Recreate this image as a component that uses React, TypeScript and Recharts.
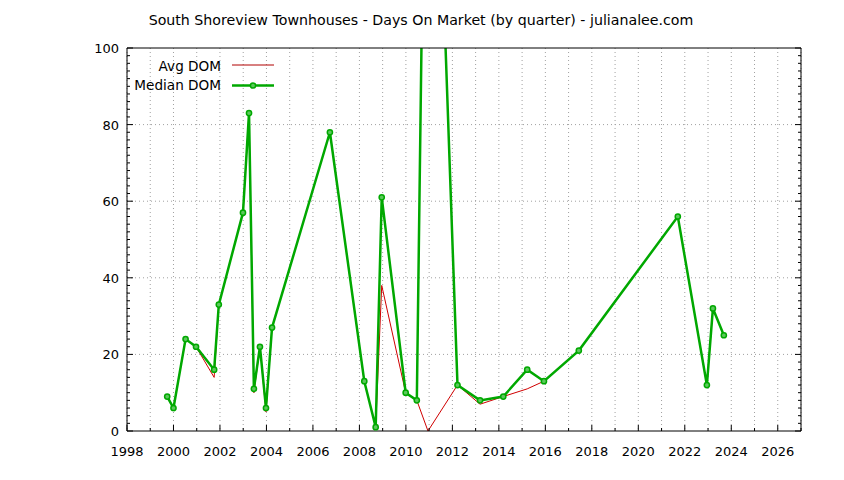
import { LineChart, Line, XAxis, YAxis, CartesianGrid, ReferenceLine } from "recharts";

// quarter positions (decimal years)
const quarters = [
  1999.73, 2000.0, 2000.52, 2000.97, 2001.75, 2001.95, 2002.99, 2003.25, 2003.46, 2003.72,
  2003.98, 2004.24, 2006.73, 2008.21, 2008.7, 2008.96, 2009.99, 2010.47, 2010.95, 2012.22,
  2013.19, 2014.19, 2015.22, 2015.94, 2017.44, 2021.7, 2022.95, 2023.21, 2023.68,
];
const avgDom = [
  9, 6, 24, 22, 14, 33, 57, 83, 10, 22,
  5, 27, 78, 13, 1, 38, 10, 8, 0, 12,
  7, 9, 11, 13, 21, 56, 12, 32, 25,
];
const medianDom = [
  9, 6, 24, 22, 16, 33, 57, 83, 11, 22,
  6, 27, 78, 13, 1, 61, 10, 8, 230, 12,
  8, 9, 16, 13, 21, 56, 12, 32, 25,
];

const yearTicks = Array.from({ length: 30 }, (_, i) => 1998 + i);
const domTicks = Array.from({ length: 51 }, (_, i) => i * 2);
const gridLevels = [20, 40, 60, 80];

const data = quarters.map((t, i) => ({ t, avg: avgDom[i], median: medianDom[i] }));

const FONT = "'DejaVu Sans', sans-serif";
const GREEN = "#00a800";
const RED = "#d00000";

const BottomTick = ({ x, y, payload }: any) => {
  const v = payload.value;
  const major = v % 2 === 0;
  return (
    <g>
      <line x1={x} x2={x} y1={y} y2={y - (major ? 6 : 3)} stroke="#000" />
      {major && v <= 2026 && (
        <text x={x} y={y + 25} textAnchor="middle" fontSize={13} fontFamily={FONT} fill="#000">
          {v}
        </text>
      )}
    </g>
  );
};

const TopTick = ({ x, y, payload }: any) => {
  const major = payload.value % 2 === 0;
  return <line x1={x} x2={x} y1={y} y2={y + (major ? 6 : 3)} stroke="#000" />;
};

const LeftTick = ({ x, y, payload }: any) => {
  const v = payload.value;
  const major = v % 20 === 0;
  return (
    <g>
      <line x1={x} x2={x + (major ? 6 : 3)} y1={y} y2={y} stroke="#000" />
      {major && (
        <text x={x - 8} y={y + 5} textAnchor="end" fontSize={13} fontFamily={FONT} fill="#000">
          {v}
        </text>
      )}
    </g>
  );
};

const RightTick = ({ x, y, payload }: any) => {
  const major = payload.value % 20 === 0;
  return <line x1={x} x2={x - (major ? 6 : 3)} y1={y} y2={y} stroke="#000" />;
};

const MedianDot = (props: any) => {
  const { cx, cy, index } = props;
  if (cy == null || cy < 40) return <g key={index} />;
  return <circle key={index} cx={cx} cy={cy} r={2.6} fill="#5cc85c" stroke={GREEN} strokeWidth={1.5} />;
};

export default function App() {
  return (
    <div style={{ position: "absolute", left: 0, top: 0, width: 844, height: 480, background: "#fff" }}>
      <LineChart width={844} height={480} data={data} margin={{ top: 47, right: 42, bottom: 24, left: 0 }}>
        <CartesianGrid vertical horizontal={false} stroke="#a0a0a0" strokeDasharray="1 3" />
        {gridLevels.map((g) => (
          <ReferenceLine key={g} y={g} stroke="#a0a0a0" strokeDasharray="1 3" />
        ))}
        <XAxis
          dataKey="t"
          type="number"
          domain={[1998, 2027]}
          ticks={yearTicks}
          interval={0}
          height={25}
          tickSize={0}
          tickMargin={0}
          tickLine={false}
          axisLine={{ stroke: "#000" }}
          tick={<BottomTick />}
          allowDataOverflow
        />
        <XAxis
          xAxisId="top"
          orientation="top"
          type="number"
          domain={[1998, 2027]}
          ticks={yearTicks}
          interval={0}
          height={1}
          tickSize={0}
          tickMargin={0}
          tickLine={false}
          axisLine={{ stroke: "#000" }}
          tick={<TopTick />}
          allowDataOverflow
        />
        <YAxis
          type="number"
          domain={[0, 100]}
          ticks={domTicks}
          interval={0}
          width={127}
          tickSize={0}
          tickMargin={0}
          tickLine={false}
          axisLine={{ stroke: "#000" }}
          tick={<LeftTick />}
          allowDataOverflow
        />
        <YAxis
          yAxisId="right"
          orientation="right"
          type="number"
          domain={[0, 100]}
          ticks={domTicks}
          interval={0}
          width={1}
          tickSize={0}
          tickMargin={0}
          tickLine={false}
          axisLine={{ stroke: "#000" }}
          tick={<RightTick />}
          allowDataOverflow
        />
        <Line
          dataKey="avg"
          type="linear"
          stroke={RED}
          strokeWidth={1}
          dot={false}
          isAnimationActive={false}
        />
        <Line
          dataKey="median"
          type="linear"
          stroke={GREEN}
          strokeWidth={2.5}
          dot={<MedianDot />}
          isAnimationActive={false}
        />
      </LineChart>
      <svg width={844} height={480} style={{ position: "absolute", left: 0, top: 0, pointerEvents: "none" }}>
        <text x={421} y={25} textAnchor="middle" fontSize={14.2} fontFamily={FONT} fill="#000">
          South Shoreview Townhouses - Days On Market (by quarter) - julianalee.com
        </text>
        <text x={221} y={71} textAnchor="end" fontSize={13.6} fontFamily={FONT} fill="#000">
          Avg DOM
        </text>
        <line x1={232} x2={274} y1={65} y2={65} stroke="#b00000" strokeWidth={1} />
        <text x={221} y={90} textAnchor="end" fontSize={13.6} fontFamily={FONT} fill="#000">
          Median DOM
        </text>
        <line x1={232} x2={274} y1={85.5} y2={85.5} stroke={GREEN} strokeWidth={2.5} />
        <circle cx={253} cy={85.5} r={2.6} fill="#5cc85c" stroke={GREEN} strokeWidth={1.5} />
      </svg>
    </div>
  );
}
